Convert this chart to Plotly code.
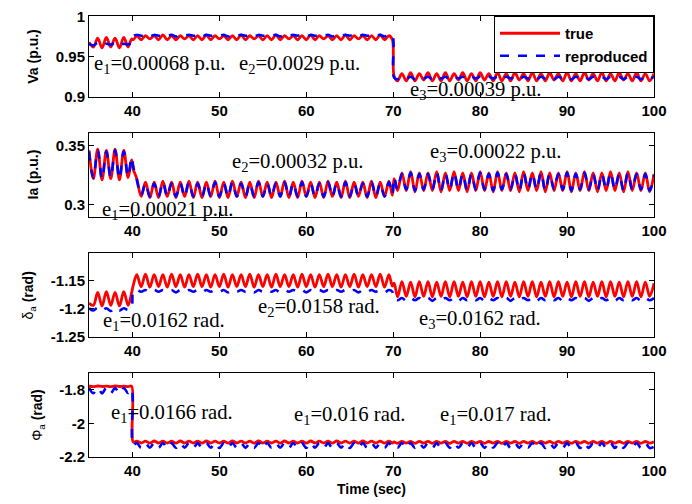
import plotly.graph_objects as go

# ---------------- data ----------------
t = [35.0, 35.5, 36.0, 36.5, 37.0, 37.5, 38.0, 38.5, 39.0, 39.5, 39.9,
     40.1,
     40.5, 41.0, 41.5, 42.0, 42.5, 43.0, 43.5, 44.0, 44.5, 45.0,
     45.5, 46.0, 46.5, 47.0, 47.5, 48.0, 48.5, 49.0, 49.5, 50.0,
     50.5, 51.0, 51.5, 52.0, 52.5, 53.0, 53.5, 54.0, 54.5, 55.0,
     55.5, 56.0, 56.5, 57.0, 57.5, 58.0, 58.5, 59.0, 59.5, 60.0,
     60.5, 61.0, 61.5, 62.0, 62.5, 63.0, 63.5, 64.0, 64.5, 65.0,
     65.5, 66.0, 66.5, 67.0, 67.5, 68.0, 68.5, 69.0, 69.5, 69.9,
     70.1,
     70.5, 71.0, 71.5, 72.0, 72.5, 73.0, 73.5, 74.0, 74.5, 75.0,
     75.5, 76.0, 76.5, 77.0, 77.5, 78.0, 78.5, 79.0, 79.5, 80.0,
     80.5, 81.0, 81.5, 82.0, 82.5, 83.0, 83.5, 84.0, 84.5, 85.0,
     85.5, 86.0, 86.5, 87.0, 87.5, 88.0, 88.5, 89.0, 89.5, 90.0,
     90.5, 91.0, 91.5, 92.0, 92.5, 93.0, 93.5, 94.0, 94.5, 95.0,
     95.5, 96.0, 96.5, 97.0, 97.5, 98.0, 98.5, 99.0, 99.5, 100.0]

va_true = [0.968, 0.962, 0.973, 0.961, 0.974, 0.962, 0.973, 0.961, 0.974, 0.962, 0.972,
           0.971,
           0.976, 0.971, 0.976, 0.972, 0.976, 0.971, 0.977, 0.971, 0.976, 0.971,
           0.976, 0.972, 0.976, 0.971, 0.976, 0.971, 0.977, 0.971, 0.976, 0.972,
           0.976, 0.971, 0.976, 0.971, 0.977, 0.971, 0.976, 0.972, 0.976, 0.971,
           0.976, 0.971, 0.977, 0.971, 0.976, 0.972, 0.976, 0.971, 0.976, 0.971,
           0.977, 0.971, 0.976, 0.972, 0.976, 0.971, 0.976, 0.971, 0.977, 0.971,
           0.976, 0.972, 0.976, 0.971, 0.976, 0.971, 0.977, 0.971, 0.976, 0.971,
           0.926,
           0.920, 0.929, 0.920, 0.930, 0.920, 0.929, 0.921, 0.930, 0.920, 0.929,
           0.920, 0.930, 0.920, 0.929, 0.921, 0.930, 0.920, 0.929, 0.920, 0.930,
           0.921, 0.929, 0.920, 0.930, 0.920, 0.929, 0.920, 0.930, 0.921, 0.929,
           0.920, 0.930, 0.920, 0.929, 0.920, 0.930, 0.921, 0.929, 0.920, 0.930,
           0.920, 0.929, 0.920, 0.930, 0.921, 0.929, 0.920, 0.930, 0.920, 0.929,
           0.920, 0.930, 0.921, 0.929, 0.920, 0.930, 0.920, 0.929, 0.920, 0.929]

va_repr = [0.966, 0.964, 0.967, 0.964, 0.966, 0.965, 0.967, 0.964, 0.966, 0.965, 0.968,
           0.976,
           0.977, 0.976, 0.977, 0.975, 0.977, 0.976, 0.977, 0.976, 0.977, 0.975,
           0.977, 0.976, 0.977, 0.976, 0.977, 0.975, 0.977, 0.976, 0.977, 0.976,
           0.977, 0.975, 0.977, 0.976, 0.977, 0.976, 0.977, 0.975, 0.977, 0.976,
           0.977, 0.976, 0.977, 0.975, 0.977, 0.976, 0.977, 0.976, 0.977, 0.975,
           0.977, 0.976, 0.977, 0.976, 0.977, 0.975, 0.977, 0.976, 0.977, 0.976,
           0.977, 0.975, 0.977, 0.976, 0.977, 0.976, 0.977, 0.975, 0.977, 0.976,
           0.924,
           0.922, 0.925, 0.923, 0.925, 0.922, 0.925, 0.923, 0.925, 0.922, 0.925,
           0.923, 0.925, 0.922, 0.925, 0.923, 0.925, 0.922, 0.925, 0.923, 0.925,
           0.922, 0.925, 0.923, 0.925, 0.922, 0.925, 0.923, 0.925, 0.922, 0.925,
           0.923, 0.925, 0.922, 0.925, 0.923, 0.925, 0.922, 0.925, 0.923, 0.925,
           0.922, 0.925, 0.923, 0.925, 0.922, 0.925, 0.923, 0.925, 0.922, 0.925,
           0.923, 0.925, 0.922, 0.925, 0.923, 0.925, 0.922, 0.925, 0.923, 0.925]

ia_true = [0.346, 0.322, 0.347, 0.321, 0.346, 0.322, 0.347, 0.321, 0.346, 0.323, 0.338,
           0.330,
           0.322, 0.307, 0.319, 0.306, 0.319, 0.306, 0.320, 0.307, 0.319, 0.306,
           0.319, 0.307, 0.320, 0.306, 0.319, 0.306, 0.319, 0.307, 0.320, 0.306,
           0.319, 0.306, 0.320, 0.307, 0.319, 0.306, 0.319, 0.306, 0.320, 0.307,
           0.319, 0.306, 0.319, 0.307, 0.320, 0.306, 0.319, 0.306, 0.320, 0.307,
           0.319, 0.306, 0.319, 0.306, 0.320, 0.307, 0.319, 0.306, 0.320, 0.306,
           0.319, 0.307, 0.319, 0.306, 0.320, 0.306, 0.319, 0.307, 0.320, 0.308,
           0.322,
           0.312, 0.327, 0.312, 0.328, 0.311, 0.327, 0.312, 0.327, 0.312, 0.328,
           0.311, 0.327, 0.312, 0.328, 0.312, 0.327, 0.311, 0.327, 0.312, 0.328,
           0.312, 0.327, 0.311, 0.328, 0.312, 0.327, 0.312, 0.327, 0.311, 0.328,
           0.312, 0.327, 0.312, 0.328, 0.311, 0.327, 0.312, 0.327, 0.312, 0.328,
           0.311, 0.327, 0.312, 0.328, 0.312, 0.327, 0.311, 0.327, 0.312, 0.328,
           0.312, 0.327, 0.311, 0.328, 0.312, 0.327, 0.312, 0.327, 0.311, 0.326]

ia_repr = [0.345, 0.323, 0.346, 0.322, 0.345, 0.323, 0.346, 0.322, 0.345, 0.324, 0.340,
           0.332,
           0.321, 0.308, 0.318, 0.307, 0.318, 0.307, 0.319, 0.307, 0.318, 0.307,
           0.318, 0.307, 0.319, 0.307, 0.318, 0.307, 0.318, 0.307, 0.319, 0.307,
           0.318, 0.307, 0.319, 0.307, 0.318, 0.307, 0.318, 0.307, 0.319, 0.307,
           0.318, 0.307, 0.318, 0.307, 0.319, 0.307, 0.318, 0.307, 0.319, 0.307,
           0.318, 0.307, 0.318, 0.307, 0.319, 0.307, 0.318, 0.307, 0.319, 0.307,
           0.318, 0.307, 0.318, 0.307, 0.319, 0.307, 0.318, 0.307, 0.319, 0.309,
           0.323,
           0.313, 0.326, 0.313, 0.327, 0.312, 0.326, 0.313, 0.326, 0.313, 0.327,
           0.312, 0.326, 0.313, 0.327, 0.313, 0.326, 0.312, 0.326, 0.313, 0.327,
           0.313, 0.326, 0.312, 0.327, 0.313, 0.326, 0.313, 0.326, 0.312, 0.327,
           0.313, 0.326, 0.313, 0.327, 0.312, 0.326, 0.313, 0.326, 0.313, 0.327,
           0.312, 0.326, 0.313, 0.327, 0.313, 0.326, 0.312, 0.326, 0.313, 0.327,
           0.313, 0.326, 0.312, 0.327, 0.313, 0.326, 0.313, 0.326, 0.312, 0.325]

delta_true = [-1.190, -1.194, -1.171, -1.195, -1.170, -1.194, -1.171, -1.195, -1.170, -1.194, -1.172,
              -1.158,
              -1.140, -1.161, -1.139, -1.162, -1.140, -1.161, -1.140, -1.162, -1.139, -1.161,
              -1.140, -1.162, -1.140, -1.161, -1.139, -1.161, -1.140, -1.162, -1.140, -1.161,
              -1.139, -1.162, -1.140, -1.161, -1.140, -1.161, -1.139, -1.162, -1.140, -1.161,
              -1.140, -1.162, -1.139, -1.161, -1.140, -1.161, -1.140, -1.162, -1.139, -1.161,
              -1.140, -1.162, -1.140, -1.161, -1.139, -1.161, -1.140, -1.162, -1.140, -1.161,
              -1.139, -1.162, -1.140, -1.161, -1.140, -1.161, -1.139, -1.162, -1.140, -1.160,
              -1.155,
              -1.179, -1.152, -1.178, -1.153, -1.179, -1.152, -1.178, -1.152, -1.179, -1.153,
              -1.178, -1.152, -1.179, -1.152, -1.178, -1.153, -1.179, -1.152, -1.178, -1.152,
              -1.179, -1.153, -1.178, -1.152, -1.179, -1.152, -1.178, -1.153, -1.179, -1.152,
              -1.178, -1.152, -1.179, -1.153, -1.178, -1.152, -1.179, -1.152, -1.178, -1.153,
              -1.179, -1.152, -1.178, -1.152, -1.179, -1.153, -1.178, -1.152, -1.179, -1.152,
              -1.178, -1.153, -1.179, -1.152, -1.178, -1.152, -1.179, -1.153, -1.178, -1.155]

delta_repr = [-1.199, -1.203, -1.198, -1.203, -1.199, -1.204, -1.198, -1.203, -1.199, -1.202, -1.197,
              -1.169,
              -1.167, -1.170, -1.167, -1.171, -1.167, -1.170, -1.167, -1.170, -1.167, -1.171,
              -1.167, -1.170, -1.167, -1.170, -1.167, -1.171, -1.167, -1.170, -1.167, -1.170,
              -1.167, -1.171, -1.167, -1.170, -1.167, -1.170, -1.167, -1.171, -1.167, -1.170,
              -1.167, -1.170, -1.167, -1.171, -1.167, -1.170, -1.167, -1.170, -1.167, -1.171,
              -1.167, -1.170, -1.167, -1.170, -1.167, -1.171, -1.167, -1.170, -1.167, -1.170,
              -1.167, -1.171, -1.167, -1.170, -1.167, -1.170, -1.167, -1.171, -1.167, -1.170,
              -1.182,
              -1.185, -1.181, -1.186, -1.181, -1.185, -1.181, -1.185, -1.181, -1.186, -1.181,
              -1.185, -1.181, -1.185, -1.181, -1.186, -1.181, -1.185, -1.181, -1.185, -1.181,
              -1.186, -1.181, -1.185, -1.181, -1.185, -1.181, -1.186, -1.181, -1.185, -1.181,
              -1.185, -1.181, -1.186, -1.181, -1.185, -1.181, -1.185, -1.181, -1.186, -1.181,
              -1.185, -1.181, -1.185, -1.181, -1.186, -1.181, -1.185, -1.181, -1.185, -1.181,
              -1.186, -1.181, -1.185, -1.181, -1.185, -1.181, -1.186, -1.181, -1.185, -1.181]

phi_true = [-1.777, -1.781, -1.777, -1.780, -1.778, -1.781, -1.777, -1.780, -1.778, -1.781, -1.778,
            -2.112,
            -2.106, -2.117, -2.106, -2.118, -2.105, -2.117, -2.106, -2.117, -2.106, -2.118,
            -2.105, -2.117, -2.106, -2.117, -2.106, -2.118, -2.105, -2.117, -2.106, -2.117,
            -2.106, -2.118, -2.105, -2.117, -2.106, -2.117, -2.106, -2.118, -2.105, -2.117,
            -2.106, -2.117, -2.106, -2.118, -2.105, -2.117, -2.106, -2.117, -2.106, -2.118,
            -2.105, -2.117, -2.106, -2.117, -2.106, -2.118, -2.105, -2.117, -2.106, -2.117,
            -2.106, -2.118, -2.105, -2.117, -2.106, -2.117, -2.106, -2.118, -2.106, -2.117,
            -2.111,
            -2.119, -2.107, -2.118, -2.108, -2.119, -2.107, -2.118, -2.107, -2.119, -2.108,
            -2.118, -2.107, -2.119, -2.107, -2.118, -2.108, -2.119, -2.107, -2.118, -2.107,
            -2.119, -2.108, -2.118, -2.107, -2.119, -2.107, -2.118, -2.108, -2.119, -2.107,
            -2.118, -2.107, -2.119, -2.108, -2.118, -2.107, -2.119, -2.107, -2.118, -2.108,
            -2.119, -2.107, -2.118, -2.107, -2.119, -2.108, -2.118, -2.107, -2.119, -2.107,
            -2.118, -2.108, -2.119, -2.107, -2.118, -2.107, -2.119, -2.108, -2.118, -2.110]

phi_repr = [-1.788, -1.820, -1.789, -1.821, -1.788, -1.820, -1.790, -1.821, -1.789, -1.819, -1.795,
            -2.130,
            -2.117, -2.146, -2.118, -2.145, -2.117, -2.146, -2.117, -2.147, -2.118, -2.146,
            -2.117, -2.145, -2.117, -2.146, -2.118, -2.146, -2.117, -2.145, -2.117, -2.147,
            -2.118, -2.146, -2.117, -2.145, -2.117, -2.146, -2.118, -2.146, -2.117, -2.147,
            -2.117, -2.146, -2.118, -2.145, -2.117, -2.146, -2.117, -2.146, -2.118, -2.147,
            -2.117, -2.145, -2.117, -2.146, -2.118, -2.146, -2.117, -2.145, -2.117, -2.147,
            -2.118, -2.146, -2.117, -2.145, -2.117, -2.146, -2.118, -2.146, -2.117, -2.140,
            -2.132,
            -2.146, -2.117, -2.147, -2.118, -2.146, -2.117, -2.145, -2.117, -2.146, -2.118,
            -2.147, -2.117, -2.146, -2.117, -2.145, -2.118, -2.146, -2.117, -2.147, -2.117,
            -2.146, -2.118, -2.145, -2.117, -2.146, -2.117, -2.147, -2.118, -2.146, -2.117,
            -2.145, -2.117, -2.146, -2.118, -2.147, -2.117, -2.146, -2.117, -2.145, -2.118,
            -2.146, -2.117, -2.147, -2.117, -2.146, -2.118, -2.145, -2.117, -2.146, -2.117,
            -2.147, -2.118, -2.146, -2.117, -2.145, -2.117, -2.146, -2.118, -2.147, -2.140]

x_ticks = [40, 50, 60, 70, 80, 90, 100]
x_ticktext = ["40", "50", "60", "70", "80", "90", "100"]

panels = [
    dict(true=va_true, repr=va_repr, title="<b>Va (p.u.)</b>", rng=[0.9, 1.0005],
         tv=[0.9, 0.95, 1.0], tt=["0.9", "0.95", "1"]),
    dict(true=ia_true, repr=ia_repr, title="<b>Ia (p.u.)</b>", rng=[0.29, 0.361],
         tv=[0.3, 0.35], tt=["0.3", "0.35"]),
    dict(true=delta_true, repr=delta_repr, title="δ<sub>a</sub> <b>(rad)</b>", rng=[-1.2505, -1.102],
         tv=[-1.25, -1.2, -1.15], tt=["-1.25", "-1.2", "-1.15"]),
    dict(true=phi_true, repr=phi_repr, title="Φ<sub>a</sub> <b>(rad)</b>", rng=[-2.2005, -1.70],
         tv=[-2.2, -2.0, -1.8], tt=["-2.2", "-2", "-1.8"]),
]

# annotation texts: (panel, x, y, text)
notes = [
    (0, 35.35, 0.9405, "e<sub>1</sub>=0.00068 p.u."),
    (0, 52.0, 0.9405, "e<sub>2</sub>=0.0029 p.u."),
    (0, 71.7, 0.9085, "e<sub>3</sub>=0.00039 p.u."),
    (1, 51.2, 0.3353, "e<sub>2</sub>=0.00032 p.u."),
    (1, 74.0, 0.3438, "e<sub>3</sub>=0.00022 p.u."),
    (1, 36.3, 0.2948, "e<sub>1</sub>=0.00021 p.u."),
    (2, 36.4, -1.222, "e<sub>1</sub>=0.0162 rad."),
    (2, 54.2, -1.198, "e<sub>2</sub>=0.0158 rad."),
    (2, 72.7, -1.219, "e<sub>3</sub>=0.0162 rad."),
    (3, 37.3, -1.942, "e<sub>1</sub>=0.0166 rad."),
    (3, 58.3, -1.955, "e<sub>1</sub>=0.016 rad."),
    (3, 75.2, -1.955, "e<sub>1</sub>=0.017 rad."),
]

# ---------------- figure ----------------
# the page body adds an 8 px offset, so the figure is 8 px smaller than the window
domains = [[0.8165, 1.0], [0.5452, 0.7356], [0.2710, 0.4623], [0.0, 0.1903]]
tick_font = dict(family="Liberation Sans, Arial", size=15, color="black", weight="bold")
title_font = dict(family="Liberation Sans, Arial", size=14, color="black")

fig = go.Figure()
layout = dict(
    width=684, height=496,
    margin=dict(l=81, r=38, t=8, b=47, autoexpand=False),
    paper_bgcolor="white", plot_bgcolor="white",
    showlegend=True,
    legend=dict(x=1.0, y=1.0, xanchor="right", yanchor="top",
                bgcolor="white", bordercolor="black", borderwidth=1,
                font=dict(family="Liberation Sans, Arial", size=15, color="black", weight="bold"),
                itemwidth=60, tracegroupgap=0),
    annotations=[],
)

for i, p in enumerate(panels):
    n = i + 1
    xa = "x" if n == 1 else f"x{n}"
    ya = "y" if n == 1 else f"y{n}"
    fig.add_trace(go.Scatter(x=t, y=p["true"], xaxis=xa, yaxis=ya, mode="lines",
                             line=dict(color="#ff0000", width=2.8, shape="spline", smoothing=1.0),
                             name="true", showlegend=(n == 1)))
    fig.add_trace(go.Scatter(x=t, y=p["repr"], xaxis=xa, yaxis=ya, mode="lines",
                             line=dict(color="#0000ff", width=2.6, dash="dash", shape="spline", smoothing=1.0),
                             name="reproduced", showlegend=(n == 1)))
    xkey = "xaxis" if n == 1 else f"xaxis{n}"
    ykey = "yaxis" if n == 1 else f"yaxis{n}"
    layout[xkey] = dict(domain=[0, 1], anchor=ya, range=[35, 100], automargin=False,
                        tickvals=x_ticks, ticktext=x_ticktext, tickfont=tick_font,
                        ticks="inside", ticklen=5, tickcolor="black",
                        showline=True, linecolor="black", linewidth=1, mirror="ticks",
                        showgrid=False, zeroline=False)
    layout[ykey] = dict(domain=domains[i], anchor=xa, range=p["rng"], automargin=False,
                        tickvals=p["tv"], ticktext=p["tt"], tickfont=tick_font,
                        ticklabeloverflow="allow",
                        ticks="inside", ticklen=5, tickcolor="black",
                        showline=True, linecolor="black", linewidth=1, mirror="ticks",
                        showgrid=False, zeroline=False,
                        title=dict(text=p["title"], font=title_font, standoff=13))

layout["xaxis4"]["title"] = dict(text="<b>Time (sec)</b>", font=title_font, standoff=6)

for (pi, x, y, txt) in notes:
    n = pi + 1
    layout["annotations"].append(dict(
        x=x, y=y, xref="x" if n == 1 else f"x{n}", yref="y" if n == 1 else f"y{n}",
        text=txt, showarrow=False, xanchor="left", yanchor="middle",
        font=dict(family="Liberation Serif, Times New Roman", size=20.7, color="black")))

fig.update_layout(**layout)
fig.write_html("out.html")
